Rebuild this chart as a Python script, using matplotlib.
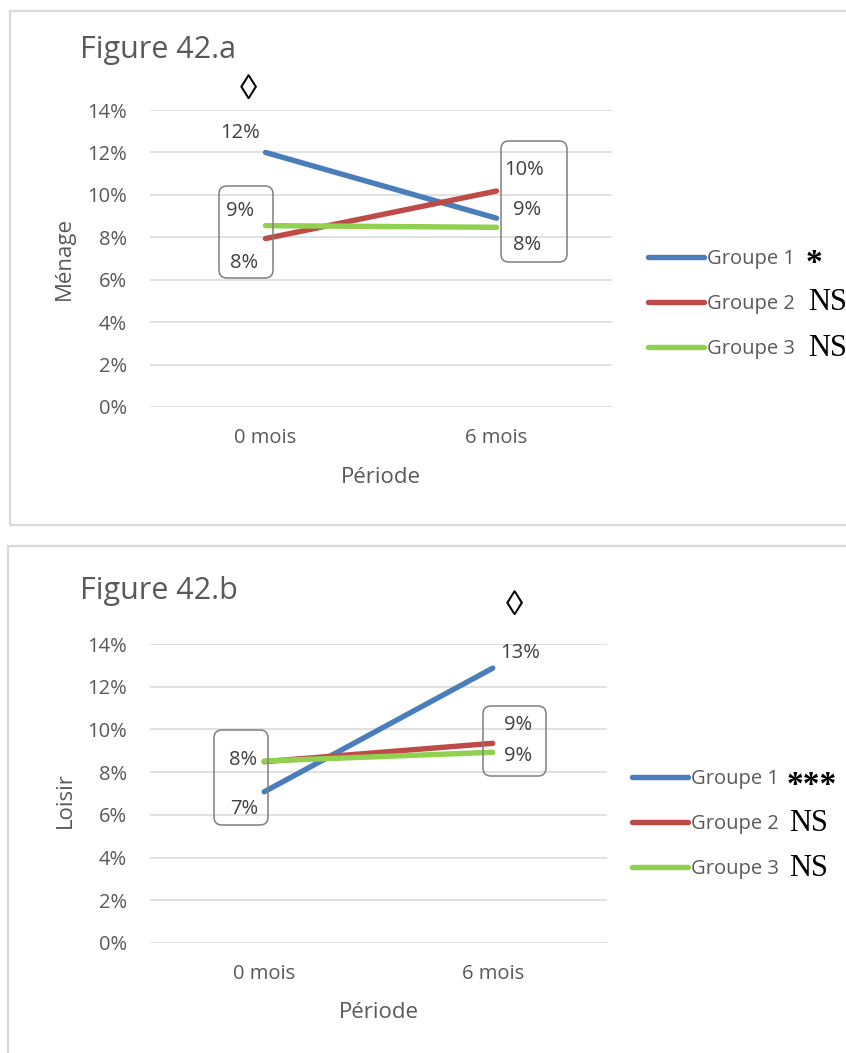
import matplotlib
matplotlib.use('Agg')
from matplotlib import pyplot as plt
from matplotlib.patches import FancyBboxPatch, Rectangle
from matplotlib.transforms import IdentityTransform

plt.rcParams['font.family'] = ['Open Sans', 'DejaVu Sans']

W, H = 846, 1053
periods = ['0 mois', '6 mois']
groups = ['Groupe 1', 'Groupe 2', 'Groupe 3']
colors = ['#4A7EBB', '#BE4B48', '#92D050']

menage = [[0.120, 0.089], [0.0794, 0.1018], [0.0855, 0.0847]]
loisir = [[0.0708, 0.1287], [0.0849, 0.0935], [0.0852, 0.0893]]
menage_sig = ['*', 'NS', 'NS']
loisir_sig = ['***', 'NS', 'NS']

gray = '#595959'
fig = plt.figure(figsize=(W / 100, H / 100), dpi=100)


def px(x, y):
    # pixel from top-left -> display coords
    return x, H - y


def rbox(x0, y0, x1, y1, r=8, color='#7F7F7F', lw=1.1):
    p = FancyBboxPatch(px(x0, y1), x1 - x0, y1 - y0,
                       boxstyle='round,pad=0,rounding_size=%d' % r,
                       transform=IdentityTransform(), fill=False,
                       edgecolor=color, linewidth=lw)
    fig.add_artist(p)


def panel(x0, y0, x1, y1):
    p = Rectangle(px(x0, y1), x1 - x0, y1 - y0, transform=IdentityTransform(),
                  fill=False, edgecolor='#D9D9D9', linewidth=1.6)
    fig.add_artist(p)


def make_chart(rect, data, sig, title, title_y, ylabel, ylab_y, xlab_y,
               labels, diamond, boxes, leg_x, leg_y, sig_pos):
    ax = fig.add_axes(rect)
    x = range(len(periods))
    lines = []
    for vals, name, c in zip(data, groups, colors):
        ln, = ax.plot(x, vals, color=c, lw=3.9, solid_capstyle='round', label=name)
        lines.append(ln)
    ax.set_xlim(-0.5, 1.5)
    ax.set_ylim(0, 0.14)
    ax.set_yticks([i / 100 for i in range(0, 15, 2)])
    ax.set_yticklabels(['%d%%' % i for i in range(0, 15, 2)])
    ax.set_xticks(list(x))
    ax.set_xticklabels(periods)
    ax.tick_params(length=0, labelsize=14.5, labelcolor=gray)
    ax.tick_params(axis='y', pad=16.5)
    ax.tick_params(axis='x', pad=15)
    ax.grid(axis='y', color='#D9D9D9', lw=1.1)
    ax.set_axisbelow(True)
    for s in ax.spines.values():
        s.set_visible(False)
    ax.set_ylabel(ylabel, fontsize=16, color=gray)
    ax.yaxis.set_label_coords(-0.162, ylab_y)
    ax.set_xlabel('Période', fontsize=16, color=gray)
    ax.xaxis.set_label_coords(0.5, xlab_y)
    ax.xaxis.label.set_va('center')

    fig.text(80 / W, 1 - title_y / H, title, fontsize=22, color=gray, va='center')

    for g, i, dx, dy in labels:
        v = data[g][i]
        ax.annotate('%d%%' % round(v * 100), (i, v), xytext=(dx, dy),
                    textcoords='offset pixels', ha='center', va='center',
                    fontsize=14.5, color='#404040')
    g, i, dx, dy = diamond
    ax.annotate('\u25CA', (i, data[g][i]), xytext=(dx, dy), textcoords='offset pixels',
                ha='center', va='center', fontsize=25, color='black',
                family=['Liberation Serif', 'DejaVu Sans'])
    for b in boxes:
        rbox(*b)

    leg = ax.legend(handles=lines, loc='center left',
                    bbox_to_anchor=(leg_x / W, 1 - leg_y / H),
                    bbox_transform=fig.transFigure, frameon=False,
                    fontsize=14.5, handlelength=2.8, handletextpad=0.15,
                    labelspacing=1.25, borderpad=0, borderaxespad=0)
    for t in leg.get_texts():
        t.set_color(gray)

    for s, (sx, sy) in zip(sig, sig_pos):
        if s.startswith('*'):
            fig.text(sx / W, 1 - sy / H, s, fontsize=24, fontweight='bold',
                     family='Liberation Serif', va='baseline', ha='left')
        else:
            fig.text(sx / W, 1 - sy / H, s, fontsize=22,
                     family='Liberation Serif', va='baseline', ha='left')
    return ax


panel(10, 11, 900, 525)
panel(8, 546, 900, 1100)

make_chart([150 / W, (H - 407) / H, 462 / W, 297 / H], menage, menage_sig,
           'Figure 42.a', 50, 'Ménage', 0.5, -0.239,
           labels=[(0, 0, -25, 19), (2, 0, -25, 15), (1, 0, -21, -24),
                   (1, 1, 28, 21), (0, 1, 31, 8), (2, 1, 31, -18)],
           diamond=(0, 0, -17, 62),
           boxes=[(219, 186, 273, 278), (501, 141, 567, 262)],
           leg_x=648, leg_y=304,
           sig_pos=[(806, 272), (808, 310), (808, 356)])

make_chart([150 / W, (H - 943) / H, 457 / W, 299 / H], loisir, loisir_sig,
           'Figure 42.b', 591, 'Loisir', 0.478, -0.234,
           labels=[(0, 1, 27, 15), (1, 0, -21, 2), (0, 0, -20, -17),
                   (1, 1, 25, 18), (2, 1, 25, -4)],
           diamond=(0, 1, 22, 62),
           boxes=[(214, 730, 268, 825), (483, 706, 546, 776)],
           leg_x=632, leg_y=824,
           sig_pos=[(787, 794), (789, 831), (789, 876)])

fig.savefig('out.png', dpi=100)
